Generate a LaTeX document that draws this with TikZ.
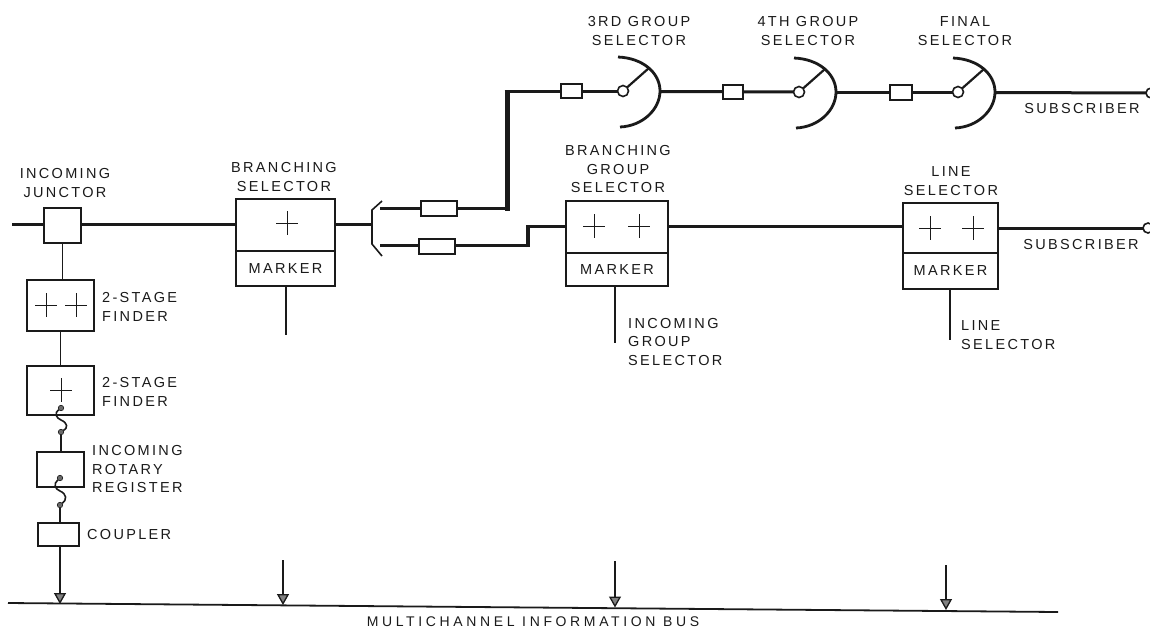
\documentclass[tikz,border=0pt]{standalone}
\usepackage{fontspec}
\setmainfont{Liberation Sans}
\newfontfamily\labfont[LetterSpace=16]{Liberation Sans}
\newfontfamily\busfont[LetterSpace=26]{Liberation Sans}
\usetikzlibrary{arrows.meta}
\definecolor{ink}{HTML}{1A1A1A}
\tikzset{
  boxa/.style={draw=ink,line width=1.8pt,fill=white,inner sep=0pt,outer sep=0pt},
  heavy/.style={draw=ink,line width=3pt},
  heavier/.style={draw=ink,line width=5pt},
  thin line/.style={draw=ink,line width=1.6pt},
  sel arc/.style={draw=ink,line width=2.8pt},
  cross arm/.style={draw=ink,line width=1pt},
  lab/.style={font=\labfont\fontsize{14.5}{18.5}\selectfont,text=ink,inner sep=0pt,align=center},
  labl/.style={font=\labfont\fontsize{14.5}{18.5}\selectfont,text=ink,inner sep=0pt,align=left,anchor=west},
  mark text/.style={font=\labfont\fontsize{14.5}{16}\selectfont,text=ink},
  pivot/.style={circle,draw=ink,line width=1.6pt,fill=white,minimum size=11pt,inner sep=0pt,outer sep=0pt},
  blob/.style={circle,fill=ink!65,draw=ink,line width=.6pt,minimum size=5.5pt,inner sep=0pt,outer sep=0pt},
  busarrow/.style={draw=ink,line width=1.3pt,-{Triangle[width=12pt,length=11pt,fill=ink!55]}},
}
\newcommand{\plusmark}[2]{\draw[cross arm] (#1-11,#2) -- (#1+11,#2) (#1,#2-12) -- (#1,#2+12);}
\newcommand{\selectorsym}[3]{%
  \node[pivot] (#1p) at (#2,#3) {};
  \coordinate (#1o) at (#2+37,#3);
  \coordinate (#1w) at (#2+26,#3-23);
  \draw[sel arc] (#2-5,#3-34) .. controls (#2+20,#3-33) and (#2+37,#3-18) .. (#1o) .. controls (#2+37,#3+18) and (#2+20,#3+35) .. (#2-3,#3+36);
  \draw[draw=ink,line width=2.2pt] (#1p) -- (#1w);
}
\begin{document}
\begin{tikzpicture}[x=1pt,y=-1pt]
\useasboundingbox (0,0) rectangle (1150,630);
% coordinates
\coordinate (mainL) at (12,224);
\coordinate (busL) at (8,603);
\coordinate (busR) at (1058,612);
\coordinate (brk) at (372,224);
\coordinate (upL) at (380,208);
\coordinate (loL) at (380,245);
\coordinate (upC) at (507,208);
\coordinate (upT) at (507,91);
\coordinate (loC) at (528,245);
\coordinate (loT) at (528,226);
\coordinate (midR) at (903,226);
\coordinate (endAc) at (1151,93);
% lines under the boxes
\draw[heavy] (mainL) -- (brk);
\draw[draw=ink,line width=1.6pt] (382,201) -- (372,210) -- (brk) -- (372,244) -- (382,256);
\draw[heavy] (upL) -- (upC);
\draw[heavier] (507,210.5) -- (upT);
\draw[heavy] (504.5,91) -- (623,91);
\draw[heavy] (660,91.5) -- (799,92);
\draw[heavy] (836,92) -- (958,92);
\draw[heavy] (995,92.5) -- (endAc);
\draw[heavy] (loL) -- (loC);
\draw[draw=ink,line width=4pt] (528,247) -- (loT);
\draw[heavy] (526,226) -- (midR);
\draw[heavy] (998,228) -- (1148,228);
% boxes
\node[boxa,minimum width=37pt,minimum height=35pt] (junctor) at (62.5,225.5) {};
\node[boxa,minimum width=67pt,minimum height=51pt] (finderA) at (60.5,305.5) {};
\node[boxa,minimum width=67pt,minimum height=49pt] (finderB) at (60.5,390.5) {};
\node[boxa,minimum width=47pt,minimum height=35pt] (register) at (60.5,469.5) {};
\node[boxa,minimum width=41pt,minimum height=23pt] (coupler) at (58.5,534.5) {};
\node[boxa,minimum width=99pt,minimum height=52pt] (bs) at (285.5,225) {};
\node[boxa,minimum width=99pt,minimum height=35pt,mark text] (bsm) at (285.5,268.5) {MARKER};
\node[boxa,minimum width=102pt,minimum height=52pt] (bg) at (617,227) {};
\node[boxa,minimum width=102pt,minimum height=33pt,mark text] (bgm) at (617,269.5) {MARKER};
\node[boxa,minimum width=95pt,minimum height=50pt] (ls) at (950.5,228) {};
\node[boxa,minimum width=95pt,minimum height=36pt,mark text] (lsm) at (950.5,271) {MARKER};
\plusmark{46}{305}\plusmark{76}{305}\plusmark{61}{390}
\plusmark{287}{223}\plusmark{594}{226}\plusmark{639}{226}\plusmark{930}{228}\plusmark{973}{228}
% small inline boxes
\node[boxa,minimum width=36pt,minimum height=15pt] (r1) at (439,208.5) {};
\node[boxa,minimum width=36pt,minimum height=15pt] (r2) at (437,246.5) {};
\node[boxa,minimum width=21pt,minimum height=14pt] (r3) at (571.5,91) {};
\node[boxa,minimum width=20pt,minimum height=14pt] (r4) at (733,92) {};
\node[boxa,minimum width=22pt,minimum height=15pt] (r5) at (901,92.5) {};
% selectors
\selectorsym{s3}{623}{91}
\selectorsym{s4}{799}{92}
\selectorsym{sf}{958}{92}
\node[pivot,minimum size=10pt] (endA) at (endAc) {};
\node[pivot,minimum size=10pt] (endB) at (1148,228) {};
% vertical chain
\draw[thin line] (junctor.south) -- (finderA.north -| junctor.south);
\draw[thin line] (finderA.south) -- (finderB.north);
\node[blob] (d1) at (61,408) {};
\node[blob] (d2) at (61,432) {};
\node[blob] (d3) at (60,478) {};
\node[blob] (d4) at (60,505) {};
\draw[draw=ink,line width=1.6pt] (d1) .. controls (54,413) and (56,418) .. (61,420) .. controls (68,423) and (68,428) .. (d2);
\draw[draw=ink,line width=2.2pt] (d2) -- (register.north -| d2);
\draw[draw=ink,line width=1.6pt] (d3) .. controls (53,484) and (55,489) .. (60,491) .. controls (67,494) and (67,500) .. (d4);
\draw[thin line] (d4) -- (coupler.north -| d4);
\coordinate (a1) at (60,604);
\coordinate (a2t) at (283,560); \coordinate (a2) at (283,605);
\coordinate (a3t) at (615,561); \coordinate (a3) at (615,607.5);
\coordinate (a4t) at (946,565); \coordinate (a4) at (946,610);
\coordinate (bsf) at (286,335);
\coordinate (bgf) at (615,343);
\coordinate (lsf) at (950,340);
\draw[thin line] (bsm.south -| bsf) -- (bsf);
\draw[thin line] (bgm.south -| bgf) -- (bgf);
\draw[thin line] (lsm.south -| lsf) -- (lsf);
\draw[draw=ink,line width=1.8pt] (busL) -- (busR);
\draw[busarrow] (coupler.south -| a1) -- (a1);
\draw[busarrow] (a2t) -- (a2);
\draw[busarrow] (a3t) -- (a3);
\draw[busarrow] (a4t) -- (a4);
% labels
\node[lab] (t1) at (65,183) {INCOMING\\JUNCTOR};
\node[lab] (t2) at (284,177) {BRANCHING\\SELECTOR};
\node[lab] (t3) at (639,31) {3RD GROUP\\SELECTOR};
\node[lab] (t4) at (808,31) {4TH GROUP\\SELECTOR};
\node[lab] (t5) at (965,31) {FINAL\\SELECTOR};
\node[lab] (t6) at (618,169.5) {BRANCHING\\GROUP\\SELECTOR};
\node[lab] (t7) at (951,181) {LINE\\SELECTOR};
\node[labl] (t8) at (102,307) {2-STAGE\\FINDER};
\node[labl] (t9) at (102,392) {2-STAGE\\FINDER};
\node[labl] (t10) at (92,469) {INCOMING\\ROTARY\\REGISTER};
\node[labl] (t11) at (87,534) {COUPLER};
\node[labl] (t12) at (628,341.5) {INCOMING\\GROUP\\SELECTOR};
\node[labl] (t13) at (961,335) {LINE\\SELECTOR};
\node[lab] (t14) at (1082,109) {SUBSCRIBER};
\node[lab] (t15) at (1081,245) {SUBSCRIBER};
\node[font=\busfont\fontsize{14}{16}\selectfont,text=ink,inner sep=0pt] (t16) at (533,622) {MULTICHANNEL INFORMATION BUS};
\end{tikzpicture}
\end{document}
